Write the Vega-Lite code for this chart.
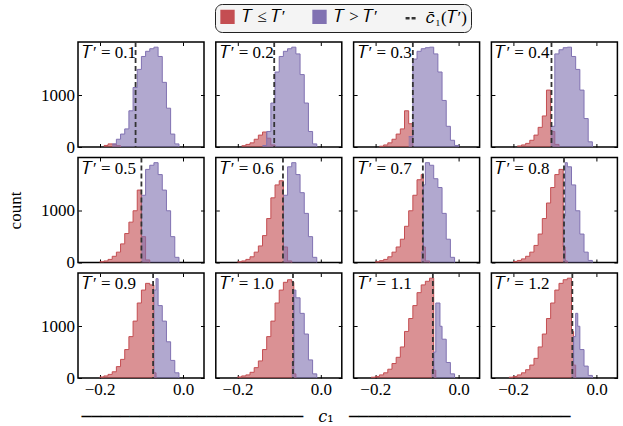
{
  "$schema": "https://vega.github.io/schema/vega-lite/v6.json",
  "background": "white",
  "padding": {"left": 5, "top": 3, "right": 5, "bottom": 2},
  "datasets": {
    "bins": [
      {"t":"0.1","g":"r","x":-0.19,"n":30},{"t":"0.1","g":"r","x":-0.18,"n":60},{"t":"0.1","g":"r","x":-0.17,"n":55},{"t":"0.1","g":"r","x":-0.16,"n":25},{"t":"0.1","g":"r","x":-0.15,"n":0},
      {"t":"0.1","g":"b","x":-0.17,"n":60},{"t":"0.1","g":"b","x":-0.16,"n":150},{"t":"0.1","g":"b","x":-0.15,"n":250},{"t":"0.1","g":"b","x":-0.14,"n":350},{"t":"0.1","g":"b","x":-0.13,"n":700},{"t":"0.1","g":"b","x":-0.12,"n":1150},{"t":"0.1","g":"b","x":-0.11,"n":1500},{"t":"0.1","g":"b","x":-0.10,"n":1750},{"t":"0.1","g":"b","x":-0.09,"n":1850},{"t":"0.1","g":"b","x":-0.08,"n":1900},{"t":"0.1","g":"b","x":-0.07,"n":1930},{"t":"0.1","g":"b","x":-0.06,"n":1750},{"t":"0.1","g":"b","x":-0.05,"n":1250},{"t":"0.1","g":"b","x":-0.04,"n":750},{"t":"0.1","g":"b","x":-0.03,"n":250},{"t":"0.1","g":"b","x":-0.02,"n":60},{"t":"0.1","g":"b","x":-0.01,"n":0},
      {"t":"0.2","g":"r","x":-0.19,"n":25},{"t":"0.2","g":"r","x":-0.18,"n":50},{"t":"0.2","g":"r","x":-0.17,"n":80},{"t":"0.2","g":"r","x":-0.16,"n":150},{"t":"0.2","g":"r","x":-0.15,"n":230},{"t":"0.2","g":"r","x":-0.14,"n":290},{"t":"0.2","g":"r","x":-0.13,"n":170},{"t":"0.2","g":"r","x":-0.12,"n":40},{"t":"0.2","g":"r","x":-0.11,"n":0},
      {"t":"0.2","g":"b","x":-0.14,"n":30},{"t":"0.2","g":"b","x":-0.13,"n":300},{"t":"0.2","g":"b","x":-0.12,"n":850},{"t":"0.2","g":"b","x":-0.11,"n":1450},{"t":"0.2","g":"b","x":-0.10,"n":1750},{"t":"0.2","g":"b","x":-0.09,"n":1850},{"t":"0.2","g":"b","x":-0.08,"n":1900},{"t":"0.2","g":"b","x":-0.07,"n":1930},{"t":"0.2","g":"b","x":-0.06,"n":1800},{"t":"0.2","g":"b","x":-0.05,"n":1400},{"t":"0.2","g":"b","x":-0.04,"n":850},{"t":"0.2","g":"b","x":-0.03,"n":300},{"t":"0.2","g":"b","x":-0.02,"n":60},{"t":"0.2","g":"b","x":-0.01,"n":0},
      {"t":"0.3","g":"r","x":-0.19,"n":15},{"t":"0.3","g":"r","x":-0.18,"n":40},{"t":"0.3","g":"r","x":-0.17,"n":80},{"t":"0.3","g":"r","x":-0.16,"n":150},{"t":"0.3","g":"r","x":-0.15,"n":250},{"t":"0.3","g":"r","x":-0.14,"n":350},{"t":"0.3","g":"r","x":-0.13,"n":700},{"t":"0.3","g":"r","x":-0.12,"n":450},{"t":"0.3","g":"r","x":-0.11,"n":0},
      {"t":"0.3","g":"b","x":-0.12,"n":200},{"t":"0.3","g":"b","x":-0.11,"n":1700},{"t":"0.3","g":"b","x":-0.10,"n":1850},{"t":"0.3","g":"b","x":-0.09,"n":1900},{"t":"0.3","g":"b","x":-0.08,"n":1920},{"t":"0.3","g":"b","x":-0.07,"n":1930},{"t":"0.3","g":"b","x":-0.06,"n":1800},{"t":"0.3","g":"b","x":-0.05,"n":1450},{"t":"0.3","g":"b","x":-0.04,"n":900},{"t":"0.3","g":"b","x":-0.03,"n":400},{"t":"0.3","g":"b","x":-0.02,"n":130},{"t":"0.3","g":"b","x":-0.01,"n":30},{"t":"0.3","g":"b","x":0.0,"n":0},
      {"t":"0.4","g":"r","x":-0.19,"n":20},{"t":"0.4","g":"r","x":-0.18,"n":40},{"t":"0.4","g":"r","x":-0.17,"n":70},{"t":"0.4","g":"r","x":-0.16,"n":130},{"t":"0.4","g":"r","x":-0.15,"n":230},{"t":"0.4","g":"r","x":-0.14,"n":380},{"t":"0.4","g":"r","x":-0.13,"n":600},{"t":"0.4","g":"r","x":-0.12,"n":1100},{"t":"0.4","g":"r","x":-0.11,"n":300},{"t":"0.4","g":"r","x":-0.10,"n":50},{"t":"0.4","g":"r","x":-0.09,"n":0},
      {"t":"0.4","g":"b","x":-0.11,"n":400},{"t":"0.4","g":"b","x":-0.10,"n":1800},{"t":"0.4","g":"b","x":-0.09,"n":1880},{"t":"0.4","g":"b","x":-0.08,"n":1920},{"t":"0.4","g":"b","x":-0.07,"n":1930},{"t":"0.4","g":"b","x":-0.06,"n":1750},{"t":"0.4","g":"b","x":-0.05,"n":1500},{"t":"0.4","g":"b","x":-0.04,"n":1100},{"t":"0.4","g":"b","x":-0.03,"n":550},{"t":"0.4","g":"b","x":-0.02,"n":100},{"t":"0.4","g":"b","x":-0.01,"n":0},
      {"t":"0.5","g":"r","x":-0.20,"n":15},{"t":"0.5","g":"r","x":-0.19,"n":30},{"t":"0.5","g":"r","x":-0.18,"n":60},{"t":"0.5","g":"r","x":-0.17,"n":120},{"t":"0.5","g":"r","x":-0.16,"n":200},{"t":"0.5","g":"r","x":-0.15,"n":360},{"t":"0.5","g":"r","x":-0.14,"n":560},{"t":"0.5","g":"r","x":-0.13,"n":780},{"t":"0.5","g":"r","x":-0.12,"n":1000},{"t":"0.5","g":"r","x":-0.11,"n":1400},{"t":"0.5","g":"r","x":-0.10,"n":500},{"t":"0.5","g":"r","x":-0.09,"n":50},{"t":"0.5","g":"r","x":-0.08,"n":0},
      {"t":"0.5","g":"b","x":-0.10,"n":1300},{"t":"0.5","g":"b","x":-0.09,"n":1800},{"t":"0.5","g":"b","x":-0.08,"n":1880},{"t":"0.5","g":"b","x":-0.07,"n":1930},{"t":"0.5","g":"b","x":-0.06,"n":1700},{"t":"0.5","g":"b","x":-0.05,"n":1400},{"t":"0.5","g":"b","x":-0.04,"n":1000},{"t":"0.5","g":"b","x":-0.03,"n":500},{"t":"0.5","g":"b","x":-0.02,"n":100},{"t":"0.5","g":"b","x":-0.01,"n":0},
      {"t":"0.6","g":"r","x":-0.20,"n":15},{"t":"0.6","g":"r","x":-0.19,"n":30},{"t":"0.6","g":"r","x":-0.18,"n":60},{"t":"0.6","g":"r","x":-0.17,"n":110},{"t":"0.6","g":"r","x":-0.16,"n":200},{"t":"0.6","g":"r","x":-0.15,"n":320},{"t":"0.6","g":"r","x":-0.14,"n":520},{"t":"0.6","g":"r","x":-0.13,"n":850},{"t":"0.6","g":"r","x":-0.12,"n":1250},{"t":"0.6","g":"r","x":-0.11,"n":1500},{"t":"0.6","g":"r","x":-0.10,"n":1580},{"t":"0.6","g":"r","x":-0.09,"n":300},{"t":"0.6","g":"r","x":-0.08,"n":30},{"t":"0.6","g":"r","x":-0.07,"n":0},
      {"t":"0.6","g":"b","x":-0.09,"n":1300},{"t":"0.6","g":"b","x":-0.08,"n":1850},{"t":"0.6","g":"b","x":-0.07,"n":1930},{"t":"0.6","g":"b","x":-0.06,"n":1700},{"t":"0.6","g":"b","x":-0.05,"n":1350},{"t":"0.6","g":"b","x":-0.04,"n":950},{"t":"0.6","g":"b","x":-0.03,"n":500},{"t":"0.6","g":"b","x":-0.02,"n":100},{"t":"0.6","g":"b","x":-0.01,"n":0},
      {"t":"0.7","g":"r","x":-0.20,"n":15},{"t":"0.7","g":"r","x":-0.19,"n":35},{"t":"0.7","g":"r","x":-0.18,"n":60},{"t":"0.7","g":"r","x":-0.17,"n":110},{"t":"0.7","g":"r","x":-0.16,"n":200},{"t":"0.7","g":"r","x":-0.15,"n":300},{"t":"0.7","g":"r","x":-0.14,"n":450},{"t":"0.7","g":"r","x":-0.13,"n":700},{"t":"0.7","g":"r","x":-0.12,"n":1000},{"t":"0.7","g":"r","x":-0.11,"n":1300},{"t":"0.7","g":"r","x":-0.10,"n":1600},{"t":"0.7","g":"r","x":-0.09,"n":1700},{"t":"0.7","g":"r","x":-0.085,"n":300},{"t":"0.7","g":"r","x":-0.08,"n":30},{"t":"0.7","g":"r","x":-0.07,"n":0},
      {"t":"0.7","g":"b","x":-0.09,"n":200},{"t":"0.7","g":"b","x":-0.085,"n":1500},{"t":"0.7","g":"b","x":-0.08,"n":1930},{"t":"0.7","g":"b","x":-0.07,"n":1880},{"t":"0.7","g":"b","x":-0.06,"n":1620},{"t":"0.7","g":"b","x":-0.05,"n":1450},{"t":"0.7","g":"b","x":-0.04,"n":950},{"t":"0.7","g":"b","x":-0.03,"n":450},{"t":"0.7","g":"b","x":-0.02,"n":100},{"t":"0.7","g":"b","x":-0.01,"n":0},
      {"t":"0.8","g":"r","x":-0.20,"n":20},{"t":"0.8","g":"r","x":-0.19,"n":40},{"t":"0.8","g":"r","x":-0.18,"n":70},{"t":"0.8","g":"r","x":-0.17,"n":120},{"t":"0.8","g":"r","x":-0.16,"n":200},{"t":"0.8","g":"r","x":-0.15,"n":330},{"t":"0.8","g":"r","x":-0.14,"n":550},{"t":"0.8","g":"r","x":-0.13,"n":850},{"t":"0.8","g":"r","x":-0.12,"n":1150},{"t":"0.8","g":"r","x":-0.11,"n":1450},{"t":"0.8","g":"r","x":-0.10,"n":1700},{"t":"0.8","g":"r","x":-0.09,"n":1800},{"t":"0.8","g":"r","x":-0.08,"n":300},{"t":"0.8","g":"r","x":-0.075,"n":30},{"t":"0.8","g":"r","x":-0.07,"n":0},
      {"t":"0.8","g":"b","x":-0.08,"n":900},{"t":"0.8","g":"b","x":-0.075,"n":1930},{"t":"0.8","g":"b","x":-0.07,"n":1850},{"t":"0.8","g":"b","x":-0.06,"n":1500},{"t":"0.8","g":"b","x":-0.05,"n":1000},{"t":"0.8","g":"b","x":-0.04,"n":550},{"t":"0.8","g":"b","x":-0.03,"n":200},{"t":"0.8","g":"b","x":-0.02,"n":40},{"t":"0.8","g":"b","x":-0.01,"n":0},
      {"t":"0.9","g":"r","x":-0.20,"n":20},{"t":"0.9","g":"r","x":-0.19,"n":40},{"t":"0.9","g":"r","x":-0.18,"n":70},{"t":"0.9","g":"r","x":-0.17,"n":120},{"t":"0.9","g":"r","x":-0.16,"n":220},{"t":"0.9","g":"r","x":-0.15,"n":360},{"t":"0.9","g":"r","x":-0.14,"n":550},{"t":"0.9","g":"r","x":-0.13,"n":800},{"t":"0.9","g":"r","x":-0.12,"n":1100},{"t":"0.9","g":"r","x":-0.11,"n":1450},{"t":"0.9","g":"r","x":-0.10,"n":1700},{"t":"0.9","g":"r","x":-0.09,"n":1830},{"t":"0.9","g":"r","x":-0.08,"n":1800},{"t":"0.9","g":"r","x":-0.07,"n":100},{"t":"0.9","g":"r","x":-0.065,"n":0},
      {"t":"0.9","g":"b","x":-0.07,"n":1700},{"t":"0.9","g":"b","x":-0.065,"n":1920},{"t":"0.9","g":"b","x":-0.06,"n":1400},{"t":"0.9","g":"b","x":-0.05,"n":1100},{"t":"0.9","g":"b","x":-0.04,"n":700},{"t":"0.9","g":"b","x":-0.03,"n":340},{"t":"0.9","g":"b","x":-0.02,"n":100},{"t":"0.9","g":"b","x":-0.01,"n":0},
      {"t":"1.0","g":"r","x":-0.20,"n":20},{"t":"1.0","g":"r","x":-0.19,"n":40},{"t":"1.0","g":"r","x":-0.18,"n":60},{"t":"1.0","g":"r","x":-0.17,"n":110},{"t":"1.0","g":"r","x":-0.16,"n":200},{"t":"1.0","g":"r","x":-0.15,"n":330},{"t":"1.0","g":"r","x":-0.14,"n":550},{"t":"1.0","g":"r","x":-0.13,"n":800},{"t":"1.0","g":"r","x":-0.12,"n":1100},{"t":"1.0","g":"r","x":-0.11,"n":1450},{"t":"1.0","g":"r","x":-0.10,"n":1700},{"t":"1.0","g":"r","x":-0.09,"n":1850},{"t":"1.0","g":"r","x":-0.08,"n":1900},{"t":"1.0","g":"r","x":-0.07,"n":1850},{"t":"1.0","g":"r","x":-0.065,"n":80},{"t":"1.0","g":"r","x":-0.06,"n":0},
      {"t":"1.0","g":"b","x":-0.07,"n":300},{"t":"1.0","g":"b","x":-0.065,"n":1700},{"t":"1.0","g":"b","x":-0.06,"n":1550},{"t":"1.0","g":"b","x":-0.05,"n":1250},{"t":"1.0","g":"b","x":-0.04,"n":850},{"t":"1.0","g":"b","x":-0.03,"n":350},{"t":"1.0","g":"b","x":-0.02,"n":80},{"t":"1.0","g":"b","x":-0.01,"n":0},
      {"t":"1.1","g":"r","x":-0.21,"n":15},{"t":"1.1","g":"r","x":-0.20,"n":30},{"t":"1.1","g":"r","x":-0.19,"n":60},{"t":"1.1","g":"r","x":-0.18,"n":100},{"t":"1.1","g":"r","x":-0.17,"n":170},{"t":"1.1","g":"r","x":-0.16,"n":280},{"t":"1.1","g":"r","x":-0.15,"n":400},{"t":"1.1","g":"r","x":-0.14,"n":600},{"t":"1.1","g":"r","x":-0.13,"n":900},{"t":"1.1","g":"r","x":-0.12,"n":1150},{"t":"1.1","g":"r","x":-0.11,"n":1400},{"t":"1.1","g":"r","x":-0.10,"n":1650},{"t":"1.1","g":"r","x":-0.09,"n":1800},{"t":"1.1","g":"r","x":-0.08,"n":1870},{"t":"1.1","g":"r","x":-0.07,"n":1930},{"t":"1.1","g":"r","x":-0.06,"n":150},{"t":"1.1","g":"r","x":-0.055,"n":0},
      {"t":"1.1","g":"b","x":-0.065,"n":150},{"t":"1.1","g":"b","x":-0.06,"n":500},{"t":"1.1","g":"b","x":-0.055,"n":1450},{"t":"1.1","g":"b","x":-0.05,"n":1450},{"t":"1.1","g":"b","x":-0.045,"n":1000},{"t":"1.1","g":"b","x":-0.04,"n":750},{"t":"1.1","g":"b","x":-0.03,"n":300},{"t":"1.1","g":"b","x":-0.02,"n":80},{"t":"1.1","g":"b","x":-0.01,"n":0},
      {"t":"1.2","g":"r","x":-0.21,"n":15},{"t":"1.2","g":"r","x":-0.20,"n":30},{"t":"1.2","g":"r","x":-0.19,"n":60},{"t":"1.2","g":"r","x":-0.18,"n":100},{"t":"1.2","g":"r","x":-0.17,"n":160},{"t":"1.2","g":"r","x":-0.16,"n":250},{"t":"1.2","g":"r","x":-0.15,"n":380},{"t":"1.2","g":"r","x":-0.14,"n":600},{"t":"1.2","g":"r","x":-0.13,"n":850},{"t":"1.2","g":"r","x":-0.12,"n":1150},{"t":"1.2","g":"r","x":-0.11,"n":1450},{"t":"1.2","g":"r","x":-0.10,"n":1700},{"t":"1.2","g":"r","x":-0.09,"n":1830},{"t":"1.2","g":"r","x":-0.08,"n":1900},{"t":"1.2","g":"r","x":-0.07,"n":1930},{"t":"1.2","g":"r","x":-0.06,"n":900},{"t":"1.2","g":"r","x":-0.055,"n":250},{"t":"1.2","g":"r","x":-0.05,"n":0},
      {"t":"1.2","g":"b","x":-0.06,"n":300},{"t":"1.2","g":"b","x":-0.055,"n":800},{"t":"1.2","g":"b","x":-0.05,"n":1250},{"t":"1.2","g":"b","x":-0.045,"n":1000},{"t":"1.2","g":"b","x":-0.04,"n":550},{"t":"1.2","g":"b","x":-0.03,"n":230},{"t":"1.2","g":"b","x":-0.02,"n":50},{"t":"1.2","g":"b","x":-0.01,"n":0}
    ],
    "means": [
      {"t":"0.1","m":-0.114},{"t":"0.2","m":-0.112},{"t":"0.3","m":-0.110},{"t":"0.4","m":-0.108},
      {"t":"0.5","m":-0.100},{"t":"0.6","m":-0.091},{"t":"0.7","m":-0.086},{"t":"0.8","m":-0.078},
      {"t":"0.9","m":-0.072},{"t":"1.0","m":-0.067},{"t":"1.1","m":-0.062},{"t":"1.2","m":-0.058}
    ]
  },
  "data": {"name": "bins"},
  "columns": 4,
  "spacing": {"row": 10.5, "column": 11.8},
  "bounds": "flush",
  "title": {"text": "───────────────────────\u00a0\u00a0\u00a0𝑐₁\u00a0\u00a0\u00a0───────────────────────", "orient": "bottom", "anchor": "middle", "frame": "group", "dx": 248, "offset": 24, "font": "DejaVu Serif", "fontSize": 16, "fontWeight": "normal", "baseline": "alphabetic"},
  "concat": [
    {"width": 126, "height": 105, "title": {"text": "𝑇′ = 0.1"},
     "layer": [
      {"transform": [{"filter": "datum.t == '0.1' && datum.g == 'r'"}], "mark": {"type": "area", "interpolate": "step-after", "opacity": 0.62, "line": {"strokeWidth": 1}},
       "encoding": {"x": {"field": "x", "type": "quantitative", "scale": {"domain": [-0.252, 0.05], "nice": false, "zero": false}, "axis": {"title": null, "labels": false, "values": [-0.2, 0]}},
        "y": {"field": "n", "type": "quantitative", "stack": null, "scale": {"domain": [0, 2030], "nice": false}, "axis": {"title": null, "labels": true, "values": [0, 1000], "format": "d"}},
        "color": {"datum": "𝑇 ≤ 𝑇′", "type": "nominal", "scale": {"domain": ["𝑇 ≤ 𝑇′", "𝑇 > 𝑇′", "𝑐̄₁(𝑇′)"], "range": ["#C44E52", "#8172B2", "#333333"]},
         "legend": {"orient": "none", "legendX": 137, "legendY": -38, "direction": "horizontal", "title": null, "strokeColor": "#222222", "cornerRadius": 7, "padding": 4, "fillColor": "#f4f4f4", "labelFont": "Liberation Serif", "labelFontSize": 17, "labelColor": "black", "symbolSize": 140, "columnPadding": 22, "labelOffset": 6,
          "encode": {"symbols": {"update": {
            "shape": {"signal": "datum.value == '𝑐̄₁(𝑇′)' ? 'stroke' : 'square'"},
            "stroke": {"signal": "datum.value == '𝑐̄₁(𝑇′)' ? '#222222' : 'transparent'"},
            "strokeDash": {"signal": "datum.value == '𝑐̄₁(𝑇′)' ? [4, 2] : [1, 0]"},
            "strokeWidth": {"value": 2.5}}}}}}}},
      {"transform": [{"filter": "datum.t == '0.1' && datum.g == 'b'"}], "mark": {"type": "area", "interpolate": "step-after", "opacity": 0.62, "line": {"strokeWidth": 1}},
       "encoding": {"x": {"field": "x", "type": "quantitative", "axis": {"title": null, "labels": false, "orient": "top", "values": [-0.2, 0]}},
        "y": {"field": "n", "type": "quantitative", "stack": null, "axis": {"title": null, "labels": false, "orient": "right", "values": [0, 1000]}},
        "color": {"datum": "𝑇 > 𝑇′", "type": "nominal"}}},
      {"data": {"name": "means"}, "transform": [{"filter": "datum.t == '0.1'"}], "mark": {"type": "rule", "strokeDash": [5, 3], "strokeWidth": 1.8},
       "encoding": {"x": {"field": "m", "type": "quantitative", "axis": null}, "color": {"datum": "𝑐̄₁(𝑇′)", "type": "nominal"}}}
     ],
     "resolve": {"axis": {"x": "independent", "y": "independent"}}},
    {"width": 126, "height": 105, "title": {"text": "𝑇′ = 0.2"},
     "layer": [
      {"transform": [{"filter": "datum.t == '0.2' && datum.g == 'r'"}], "mark": {"type": "area", "interpolate": "step-after", "opacity": 0.62, "line": {"strokeWidth": 1}},
       "encoding": {"x": {"field": "x", "type": "quantitative", "scale": {"domain": [-0.252, 0.05], "nice": false, "zero": false}, "axis": {"title": null, "labels": false, "values": [-0.2, 0]}},
        "y": {"field": "n", "type": "quantitative", "stack": null, "scale": {"domain": [0, 2030], "nice": false}, "axis": {"title": null, "labels": false, "values": [0, 1000]}},
        "color": {"datum": "𝑇 ≤ 𝑇′", "type": "nominal"}}},
      {"transform": [{"filter": "datum.t == '0.2' && datum.g == 'b'"}], "mark": {"type": "area", "interpolate": "step-after", "opacity": 0.62, "line": {"strokeWidth": 1}},
       "encoding": {"x": {"field": "x", "type": "quantitative", "axis": {"title": null, "labels": false, "orient": "top", "values": [-0.2, 0]}},
        "y": {"field": "n", "type": "quantitative", "stack": null, "axis": {"title": null, "labels": false, "orient": "right", "values": [0, 1000]}},
        "color": {"datum": "𝑇 > 𝑇′", "type": "nominal"}}},
      {"data": {"name": "means"}, "transform": [{"filter": "datum.t == '0.2'"}], "mark": {"type": "rule", "strokeDash": [5, 3], "strokeWidth": 1.8},
       "encoding": {"x": {"field": "m", "type": "quantitative", "axis": null}, "color": {"datum": "𝑐̄₁(𝑇′)", "type": "nominal"}}}
     ],
     "resolve": {"axis": {"x": "independent", "y": "independent"}}},
    {"width": 126, "height": 105, "title": {"text": "𝑇′ = 0.3"},
     "layer": [
      {"transform": [{"filter": "datum.t == '0.3' && datum.g == 'r'"}], "mark": {"type": "area", "interpolate": "step-after", "opacity": 0.62, "line": {"strokeWidth": 1}},
       "encoding": {"x": {"field": "x", "type": "quantitative", "scale": {"domain": [-0.252, 0.05], "nice": false, "zero": false}, "axis": {"title": null, "labels": false, "values": [-0.2, 0]}},
        "y": {"field": "n", "type": "quantitative", "stack": null, "scale": {"domain": [0, 2030], "nice": false}, "axis": {"title": null, "labels": false, "values": [0, 1000]}},
        "color": {"datum": "𝑇 ≤ 𝑇′", "type": "nominal"}}},
      {"transform": [{"filter": "datum.t == '0.3' && datum.g == 'b'"}], "mark": {"type": "area", "interpolate": "step-after", "opacity": 0.62, "line": {"strokeWidth": 1}},
       "encoding": {"x": {"field": "x", "type": "quantitative", "axis": {"title": null, "labels": false, "orient": "top", "values": [-0.2, 0]}},
        "y": {"field": "n", "type": "quantitative", "stack": null, "axis": {"title": null, "labels": false, "orient": "right", "values": [0, 1000]}},
        "color": {"datum": "𝑇 > 𝑇′", "type": "nominal"}}},
      {"data": {"name": "means"}, "transform": [{"filter": "datum.t == '0.3'"}], "mark": {"type": "rule", "strokeDash": [5, 3], "strokeWidth": 1.8},
       "encoding": {"x": {"field": "m", "type": "quantitative", "axis": null}, "color": {"datum": "𝑐̄₁(𝑇′)", "type": "nominal"}}}
     ],
     "resolve": {"axis": {"x": "independent", "y": "independent"}}},
    {"width": 126, "height": 105, "title": {"text": "𝑇′ = 0.4"},
     "layer": [
      {"transform": [{"filter": "datum.t == '0.4' && datum.g == 'r'"}], "mark": {"type": "area", "interpolate": "step-after", "opacity": 0.62, "line": {"strokeWidth": 1}},
       "encoding": {"x": {"field": "x", "type": "quantitative", "scale": {"domain": [-0.252, 0.05], "nice": false, "zero": false}, "axis": {"title": null, "labels": false, "values": [-0.2, 0]}},
        "y": {"field": "n", "type": "quantitative", "stack": null, "scale": {"domain": [0, 2030], "nice": false}, "axis": {"title": null, "labels": false, "values": [0, 1000]}},
        "color": {"datum": "𝑇 ≤ 𝑇′", "type": "nominal"}}},
      {"transform": [{"filter": "datum.t == '0.4' && datum.g == 'b'"}], "mark": {"type": "area", "interpolate": "step-after", "opacity": 0.62, "line": {"strokeWidth": 1}},
       "encoding": {"x": {"field": "x", "type": "quantitative", "axis": {"title": null, "labels": false, "orient": "top", "values": [-0.2, 0]}},
        "y": {"field": "n", "type": "quantitative", "stack": null, "axis": {"title": null, "labels": false, "orient": "right", "values": [0, 1000]}},
        "color": {"datum": "𝑇 > 𝑇′", "type": "nominal"}}},
      {"data": {"name": "means"}, "transform": [{"filter": "datum.t == '0.4'"}], "mark": {"type": "rule", "strokeDash": [5, 3], "strokeWidth": 1.8},
       "encoding": {"x": {"field": "m", "type": "quantitative", "axis": null}, "color": {"datum": "𝑐̄₁(𝑇′)", "type": "nominal"}}}
     ],
     "resolve": {"axis": {"x": "independent", "y": "independent"}}},
    {"width": 126, "height": 105, "title": {"text": "𝑇′ = 0.5"},
     "layer": [
      {"transform": [{"filter": "datum.t == '0.5' && datum.g == 'r'"}], "mark": {"type": "area", "interpolate": "step-after", "opacity": 0.62, "line": {"strokeWidth": 1}},
       "encoding": {"x": {"field": "x", "type": "quantitative", "scale": {"domain": [-0.252, 0.05], "nice": false, "zero": false}, "axis": {"title": null, "labels": false, "values": [-0.2, 0]}},
        "y": {"field": "n", "type": "quantitative", "stack": null, "scale": {"domain": [0, 2030], "nice": false}, "axis": {"title": "count", "labels": true, "values": [0, 1000], "format": "d"}},
        "color": {"datum": "𝑇 ≤ 𝑇′", "type": "nominal"}}},
      {"transform": [{"filter": "datum.t == '0.5' && datum.g == 'b'"}], "mark": {"type": "area", "interpolate": "step-after", "opacity": 0.62, "line": {"strokeWidth": 1}},
       "encoding": {"x": {"field": "x", "type": "quantitative", "axis": {"title": null, "labels": false, "orient": "top", "values": [-0.2, 0]}},
        "y": {"field": "n", "type": "quantitative", "stack": null, "axis": {"title": null, "labels": false, "orient": "right", "values": [0, 1000]}},
        "color": {"datum": "𝑇 > 𝑇′", "type": "nominal"}}},
      {"data": {"name": "means"}, "transform": [{"filter": "datum.t == '0.5'"}], "mark": {"type": "rule", "strokeDash": [5, 3], "strokeWidth": 1.8},
       "encoding": {"x": {"field": "m", "type": "quantitative", "axis": null}, "color": {"datum": "𝑐̄₁(𝑇′)", "type": "nominal"}}}
     ],
     "resolve": {"axis": {"x": "independent", "y": "independent"}}},
    {"width": 126, "height": 105, "title": {"text": "𝑇′ = 0.6"},
     "layer": [
      {"transform": [{"filter": "datum.t == '0.6' && datum.g == 'r'"}], "mark": {"type": "area", "interpolate": "step-after", "opacity": 0.62, "line": {"strokeWidth": 1}},
       "encoding": {"x": {"field": "x", "type": "quantitative", "scale": {"domain": [-0.252, 0.05], "nice": false, "zero": false}, "axis": {"title": null, "labels": false, "values": [-0.2, 0]}},
        "y": {"field": "n", "type": "quantitative", "stack": null, "scale": {"domain": [0, 2030], "nice": false}, "axis": {"title": null, "labels": false, "values": [0, 1000]}},
        "color": {"datum": "𝑇 ≤ 𝑇′", "type": "nominal"}}},
      {"transform": [{"filter": "datum.t == '0.6' && datum.g == 'b'"}], "mark": {"type": "area", "interpolate": "step-after", "opacity": 0.62, "line": {"strokeWidth": 1}},
       "encoding": {"x": {"field": "x", "type": "quantitative", "axis": {"title": null, "labels": false, "orient": "top", "values": [-0.2, 0]}},
        "y": {"field": "n", "type": "quantitative", "stack": null, "axis": {"title": null, "labels": false, "orient": "right", "values": [0, 1000]}},
        "color": {"datum": "𝑇 > 𝑇′", "type": "nominal"}}},
      {"data": {"name": "means"}, "transform": [{"filter": "datum.t == '0.6'"}], "mark": {"type": "rule", "strokeDash": [5, 3], "strokeWidth": 1.8},
       "encoding": {"x": {"field": "m", "type": "quantitative", "axis": null}, "color": {"datum": "𝑐̄₁(𝑇′)", "type": "nominal"}}}
     ],
     "resolve": {"axis": {"x": "independent", "y": "independent"}}},
    {"width": 126, "height": 105, "title": {"text": "𝑇′ = 0.7"},
     "layer": [
      {"transform": [{"filter": "datum.t == '0.7' && datum.g == 'r'"}], "mark": {"type": "area", "interpolate": "step-after", "opacity": 0.62, "line": {"strokeWidth": 1}},
       "encoding": {"x": {"field": "x", "type": "quantitative", "scale": {"domain": [-0.252, 0.05], "nice": false, "zero": false}, "axis": {"title": null, "labels": false, "values": [-0.2, 0]}},
        "y": {"field": "n", "type": "quantitative", "stack": null, "scale": {"domain": [0, 2030], "nice": false}, "axis": {"title": null, "labels": false, "values": [0, 1000]}},
        "color": {"datum": "𝑇 ≤ 𝑇′", "type": "nominal"}}},
      {"transform": [{"filter": "datum.t == '0.7' && datum.g == 'b'"}], "mark": {"type": "area", "interpolate": "step-after", "opacity": 0.62, "line": {"strokeWidth": 1}},
       "encoding": {"x": {"field": "x", "type": "quantitative", "axis": {"title": null, "labels": false, "orient": "top", "values": [-0.2, 0]}},
        "y": {"field": "n", "type": "quantitative", "stack": null, "axis": {"title": null, "labels": false, "orient": "right", "values": [0, 1000]}},
        "color": {"datum": "𝑇 > 𝑇′", "type": "nominal"}}},
      {"data": {"name": "means"}, "transform": [{"filter": "datum.t == '0.7'"}], "mark": {"type": "rule", "strokeDash": [5, 3], "strokeWidth": 1.8},
       "encoding": {"x": {"field": "m", "type": "quantitative", "axis": null}, "color": {"datum": "𝑐̄₁(𝑇′)", "type": "nominal"}}}
     ],
     "resolve": {"axis": {"x": "independent", "y": "independent"}}},
    {"width": 126, "height": 105, "title": {"text": "𝑇′ = 0.8"},
     "layer": [
      {"transform": [{"filter": "datum.t == '0.8' && datum.g == 'r'"}], "mark": {"type": "area", "interpolate": "step-after", "opacity": 0.62, "line": {"strokeWidth": 1}},
       "encoding": {"x": {"field": "x", "type": "quantitative", "scale": {"domain": [-0.252, 0.05], "nice": false, "zero": false}, "axis": {"title": null, "labels": false, "values": [-0.2, 0]}},
        "y": {"field": "n", "type": "quantitative", "stack": null, "scale": {"domain": [0, 2030], "nice": false}, "axis": {"title": null, "labels": false, "values": [0, 1000]}},
        "color": {"datum": "𝑇 ≤ 𝑇′", "type": "nominal"}}},
      {"transform": [{"filter": "datum.t == '0.8' && datum.g == 'b'"}], "mark": {"type": "area", "interpolate": "step-after", "opacity": 0.62, "line": {"strokeWidth": 1}},
       "encoding": {"x": {"field": "x", "type": "quantitative", "axis": {"title": null, "labels": false, "orient": "top", "values": [-0.2, 0]}},
        "y": {"field": "n", "type": "quantitative", "stack": null, "axis": {"title": null, "labels": false, "orient": "right", "values": [0, 1000]}},
        "color": {"datum": "𝑇 > 𝑇′", "type": "nominal"}}},
      {"data": {"name": "means"}, "transform": [{"filter": "datum.t == '0.8'"}], "mark": {"type": "rule", "strokeDash": [5, 3], "strokeWidth": 1.8},
       "encoding": {"x": {"field": "m", "type": "quantitative", "axis": null}, "color": {"datum": "𝑐̄₁(𝑇′)", "type": "nominal"}}}
     ],
     "resolve": {"axis": {"x": "independent", "y": "independent"}}},
    {"width": 126, "height": 105, "title": {"text": "𝑇′ = 0.9"},
     "layer": [
      {"transform": [{"filter": "datum.t == '0.9' && datum.g == 'r'"}], "mark": {"type": "area", "interpolate": "step-after", "opacity": 0.62, "line": {"strokeWidth": 1}},
       "encoding": {"x": {"field": "x", "type": "quantitative", "scale": {"domain": [-0.252, 0.05], "nice": false, "zero": false}, "axis": {"title": null, "labels": true, "values": [-0.2, 0], "format": ".1f"}},
        "y": {"field": "n", "type": "quantitative", "stack": null, "scale": {"domain": [0, 2030], "nice": false}, "axis": {"title": null, "labels": true, "values": [0, 1000], "format": "d"}},
        "color": {"datum": "𝑇 ≤ 𝑇′", "type": "nominal"}}},
      {"transform": [{"filter": "datum.t == '0.9' && datum.g == 'b'"}], "mark": {"type": "area", "interpolate": "step-after", "opacity": 0.62, "line": {"strokeWidth": 1}},
       "encoding": {"x": {"field": "x", "type": "quantitative", "axis": {"title": null, "labels": false, "orient": "top", "values": [-0.2, 0]}},
        "y": {"field": "n", "type": "quantitative", "stack": null, "axis": {"title": null, "labels": false, "orient": "right", "values": [0, 1000]}},
        "color": {"datum": "𝑇 > 𝑇′", "type": "nominal"}}},
      {"data": {"name": "means"}, "transform": [{"filter": "datum.t == '0.9'"}], "mark": {"type": "rule", "strokeDash": [5, 3], "strokeWidth": 1.8},
       "encoding": {"x": {"field": "m", "type": "quantitative", "axis": null}, "color": {"datum": "𝑐̄₁(𝑇′)", "type": "nominal"}}}
     ],
     "resolve": {"axis": {"x": "independent", "y": "independent"}}},
    {"width": 126, "height": 105, "title": {"text": "𝑇′ = 1.0"},
     "layer": [
      {"transform": [{"filter": "datum.t == '1.0' && datum.g == 'r'"}], "mark": {"type": "area", "interpolate": "step-after", "opacity": 0.62, "line": {"strokeWidth": 1}},
       "encoding": {"x": {"field": "x", "type": "quantitative", "scale": {"domain": [-0.252, 0.05], "nice": false, "zero": false}, "axis": {"title": null, "labels": true, "values": [-0.2, 0], "format": ".1f"}},
        "y": {"field": "n", "type": "quantitative", "stack": null, "scale": {"domain": [0, 2030], "nice": false}, "axis": {"title": null, "labels": false, "values": [0, 1000]}},
        "color": {"datum": "𝑇 ≤ 𝑇′", "type": "nominal"}}},
      {"transform": [{"filter": "datum.t == '1.0' && datum.g == 'b'"}], "mark": {"type": "area", "interpolate": "step-after", "opacity": 0.62, "line": {"strokeWidth": 1}},
       "encoding": {"x": {"field": "x", "type": "quantitative", "axis": {"title": null, "labels": false, "orient": "top", "values": [-0.2, 0]}},
        "y": {"field": "n", "type": "quantitative", "stack": null, "axis": {"title": null, "labels": false, "orient": "right", "values": [0, 1000]}},
        "color": {"datum": "𝑇 > 𝑇′", "type": "nominal"}}},
      {"data": {"name": "means"}, "transform": [{"filter": "datum.t == '1.0'"}], "mark": {"type": "rule", "strokeDash": [5, 3], "strokeWidth": 1.8},
       "encoding": {"x": {"field": "m", "type": "quantitative", "axis": null}, "color": {"datum": "𝑐̄₁(𝑇′)", "type": "nominal"}}}
     ],
     "resolve": {"axis": {"x": "independent", "y": "independent"}}},
    {"width": 126, "height": 105, "title": {"text": "𝑇′ = 1.1"},
     "layer": [
      {"transform": [{"filter": "datum.t == '1.1' && datum.g == 'r'"}], "mark": {"type": "area", "interpolate": "step-after", "opacity": 0.62, "line": {"strokeWidth": 1}},
       "encoding": {"x": {"field": "x", "type": "quantitative", "scale": {"domain": [-0.252, 0.05], "nice": false, "zero": false}, "axis": {"title": null, "labels": true, "values": [-0.2, 0], "format": ".1f"}},
        "y": {"field": "n", "type": "quantitative", "stack": null, "scale": {"domain": [0, 2030], "nice": false}, "axis": {"title": null, "labels": false, "values": [0, 1000]}},
        "color": {"datum": "𝑇 ≤ 𝑇′", "type": "nominal"}}},
      {"transform": [{"filter": "datum.t == '1.1' && datum.g == 'b'"}], "mark": {"type": "area", "interpolate": "step-after", "opacity": 0.62, "line": {"strokeWidth": 1}},
       "encoding": {"x": {"field": "x", "type": "quantitative", "axis": {"title": null, "labels": false, "orient": "top", "values": [-0.2, 0]}},
        "y": {"field": "n", "type": "quantitative", "stack": null, "axis": {"title": null, "labels": false, "orient": "right", "values": [0, 1000]}},
        "color": {"datum": "𝑇 > 𝑇′", "type": "nominal"}}},
      {"data": {"name": "means"}, "transform": [{"filter": "datum.t == '1.1'"}], "mark": {"type": "rule", "strokeDash": [5, 3], "strokeWidth": 1.8},
       "encoding": {"x": {"field": "m", "type": "quantitative", "axis": null}, "color": {"datum": "𝑐̄₁(𝑇′)", "type": "nominal"}}}
     ],
     "resolve": {"axis": {"x": "independent", "y": "independent"}}},
    {"width": 126, "height": 105, "title": {"text": "𝑇′ = 1.2"},
     "layer": [
      {"transform": [{"filter": "datum.t == '1.2' && datum.g == 'r'"}], "mark": {"type": "area", "interpolate": "step-after", "opacity": 0.62, "line": {"strokeWidth": 1}},
       "encoding": {"x": {"field": "x", "type": "quantitative", "scale": {"domain": [-0.252, 0.05], "nice": false, "zero": false}, "axis": {"title": null, "labels": true, "values": [-0.2, 0], "format": ".1f"}},
        "y": {"field": "n", "type": "quantitative", "stack": null, "scale": {"domain": [0, 2030], "nice": false}, "axis": {"title": null, "labels": false, "values": [0, 1000]}},
        "color": {"datum": "𝑇 ≤ 𝑇′", "type": "nominal"}}},
      {"transform": [{"filter": "datum.t == '1.2' && datum.g == 'b'"}], "mark": {"type": "area", "interpolate": "step-after", "opacity": 0.62, "line": {"strokeWidth": 1}},
       "encoding": {"x": {"field": "x", "type": "quantitative", "axis": {"title": null, "labels": false, "orient": "top", "values": [-0.2, 0]}},
        "y": {"field": "n", "type": "quantitative", "stack": null, "axis": {"title": null, "labels": false, "orient": "right", "values": [0, 1000]}},
        "color": {"datum": "𝑇 > 𝑇′", "type": "nominal"}}},
      {"data": {"name": "means"}, "transform": [{"filter": "datum.t == '1.2'"}], "mark": {"type": "rule", "strokeDash": [5, 3], "strokeWidth": 1.8},
       "encoding": {"x": {"field": "m", "type": "quantitative", "axis": null}, "color": {"datum": "𝑐̄₁(𝑇′)", "type": "nominal"}}}
     ],
     "resolve": {"axis": {"x": "independent", "y": "independent"}}}
  ],
  "resolve": {"scale": {"color": "shared"}, "legend": {"color": "shared"}},
  "config": {
    "view": {"stroke": "black", "strokeWidth": 1.5},
    "axis": {"domain": false, "grid": false, "ticks": true, "tickSize": -3.5, "tickColor": "black", "tickWidth": 1, "labelFont": "Liberation Serif", "labelFontSize": 17, "labelColor": "black", "labelPadding": 7, "titleFont": "Liberation Serif", "titleFontSize": 17, "titleFontWeight": "normal", "titleColor": "black", "titlePadding": 16},
    "title": {"font": "Liberation Serif", "fontSize": 17, "fontWeight": "normal", "color": "black", "anchor": "start", "frame": "group", "offset": -21, "dx": 4, "baseline": "alphabetic"}
  }
}
